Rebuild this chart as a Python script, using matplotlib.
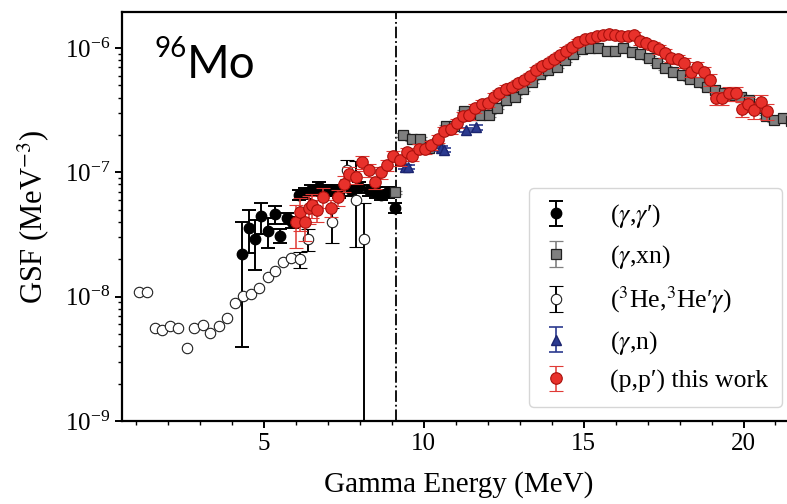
import matplotlib
matplotlib.use("Agg")
import matplotlib.pyplot as plt
import numpy as np

plt.rcParams['font.family'] = ['Liberation Serif', 'DejaVu Serif']
plt.rcParams['mathtext.fontset'] = 'stix'

nan = float('nan')

# ---------------- data ----------------
# (gamma, gamma')
gg_E = [4.33, 4.53, 4.72, 4.91, 5.13, 5.34, 5.52, 5.73, 5.89, 6.10, 6.30, 6.47, 6.73,
        6.94, 7.15, 7.35, 7.73, 7.97, 8.29, 8.50, 8.68, 8.89, 9.10]
gg_y = [2.2e-8, 3.6e-8, 2.9e-8, 4.45e-8, 3.4e-8, 4.6e-8, 3.1e-8, 4.3e-8, 4.0e-8, 6.6e-8,
        6.8e-8, 7.2e-8, 7.6e-8, 7.2e-8, 7.2e-8, 6.9e-8, 7.2e-8, 7.6e-8, 7.2e-8, 6.9e-8,
        6.6e-8, 6.9e-8, 5.2e-8]
gg_err = [0.82, 0.38, 0.43, 0.28, 0.27, 0.16, 0.13, 0.10, 0.10, 0.10, 0.10, 0.10, 0.10,
          0.10, 0.10, 0.10, 0.10, 0.10, 0.10, 0.10, 0.10, 0.10, 0.10]

# (gamma, xn)
gxn_E = [9.10, 9.37, 9.63, 9.90, 10.16, 10.42, 10.69, 10.95, 11.25, 11.50, 11.76, 12.03,
         12.30, 12.58, 12.85, 13.10, 13.38, 13.64, 13.90, 14.16, 14.42, 14.68, 14.94, 15.20,
         15.46, 15.72, 15.98, 16.24, 16.50, 16.77, 17.03, 17.29, 17.55, 17.81, 18.07, 18.34,
         18.60, 18.86, 19.12, 19.38, 19.64, 19.91, 20.17, 20.43, 20.70, 20.96, 21.22, 21.49, 21.75]
gxn_logy = [-7.16, -6.70, -6.735, -6.73, -6.80, -6.76, -6.63, -6.63, -6.51, -6.54, -6.54, -6.54,
            -6.48, -6.42, -6.39, -6.33, -6.27, -6.21, -6.18, -6.15, -6.10, -6.05, -6.01, -6.00,
            -6.00, -6.02, -6.02, -6.00, -6.03, -6.05, -6.08, -6.12, -6.16, -6.19, -6.22, -6.25,
            -6.27, -6.31, -6.34, -6.36, -6.38, -6.39, -6.42, -6.48, -6.55, -6.58, -6.565, -6.59, -6.72]

# (3He, 3He' gamma)
he_E = [1.09, 1.35, 1.59, 1.83, 2.07, 2.33, 2.59, 2.83, 3.09, 3.33, 3.60, 3.85, 4.09, 4.36,
        4.60, 4.86, 5.12, 5.36, 5.61, 5.86, 6.12, 6.38, 7.13, 7.60, 7.87, 8.13]
he_y = [1.1e-8, 1.1e-8, 5.6e-9, 5.4e-9, 5.8e-9, 5.6e-9, 3.9e-9, 5.6e-9, 5.9e-9, 5.1e-9,
        5.8e-9, 6.7e-9, 8.9e-9, 1.01e-8, 1.05e-8, 1.17e-8, 1.43e-8, 1.62e-8, 1.9e-8, 2.04e-8,
        2.0e-8, 2.9e-8, 4.0e-8, 1.05e-7, 6.0e-8, 2.9e-8]
he_err_lo = [nan, nan, nan, nan, nan, nan, nan, nan, nan, nan, nan, nan, nan,
             nan, nan, nan, nan, nan, nan, nan, 0.15, 0.20, 0.32, 0.15, 0.58, 0.999]
he_err_hi = [nan, nan, nan, nan, nan, nan, nan, nan, nan, nan, nan, nan, nan,
             nan, nan, nan, nan, nan, nan, nan, 0.15, 0.20, 0.30, 0.20, 1.05, 0.95]

# (gamma, n)
gn_E = [9.42, 9.52, 10.55, 10.65, 11.32, 11.64]
gn_y = [1.11e-7, 1.11e-7, 1.56e-7, 1.52e-7, 2.2e-7, 2.3e-7]

# (p, p') this work
pp_E = [6.01, 6.15, 6.29, 6.41, 6.50, 6.68, 6.86, 7.10, 7.31, 7.50, 7.68, 7.89, 8.08, 8.30,
        8.49, 8.68, 8.87, 9.05, 9.26, 9.47, 9.65, 9.84, 10.03, 10.24, 10.45, 10.63, 10.84,
        11.03, 11.23, 11.42, 11.61, 11.81, 12.00, 12.19, 12.37, 12.56, 12.75, 12.94, 13.13,
        13.32, 13.51, 13.70, 13.89, 14.08, 14.27, 14.46, 14.65, 14.84, 15.03, 15.22, 15.41,
        15.60, 15.80, 15.99, 16.17, 16.38, 16.59, 16.77, 16.96, 17.17, 17.36, 17.56, 17.73,
        17.94, 18.15, 18.35, 18.54, 18.76, 18.95, 19.13, 19.34, 19.55, 19.76, 19.94, 20.13,
        20.34, 20.55, 20.74]
pp_logy = [-7.40, -7.32, -7.40, -7.29, -7.26, -7.30, -7.20, -7.285, -7.20, -7.09, -7.01,
           -7.035, -6.915, -6.98, -7.08, -7.00, -6.94, -6.87, -6.90, -6.84, -6.865, -6.81,
           -6.81, -6.78, -6.73, -6.665, -6.654, -6.606, -6.547, -6.539, -6.485, -6.45, -6.44,
           -6.39, -6.365, -6.33, -6.31, -6.285, -6.26, -6.225, -6.18, -6.145, -6.12, -6.09,
           -6.055, -6.02, -5.99, -5.955, -5.928, -5.92, -5.905, -5.893, -5.887, -5.893, -5.903,
           -5.903, -5.895, -5.94, -5.962, -5.984, -6.01, -6.043, -6.078, -6.09, -6.118, -6.19,
           -6.155, -6.19, -6.257, -6.40, -6.40, -6.364, -6.364, -6.49, -6.45, -6.50, -6.437, -6.507]
pp_err = [0.38, 0.30, 0.30, 0.25, 0.22, 0.20, 0.18, 0.16, 0.15, 0.14, 0.13, 0.12, 0.12, 0.12,
          0.11, 0.11, 0.10, 0.10, 0.10, 0.09, 0.09, 0.09, 0.09, 0.08, 0.08, 0.08, 0.08, 0.08,
          0.08, 0.08, 0.08, 0.07, 0.07, 0.07, 0.07, 0.07, 0.06, 0.06, 0.06, 0.06, 0.06, 0.06,
          0.06, 0.06, 0.06, 0.06, 0.06, 0.06, 0.06, 0.06, 0.06, 0.06, 0.06, 0.06, 0.06, 0.06,
          0.06, 0.07, 0.07, 0.07, 0.08, 0.08, 0.08, 0.09, 0.09, 0.10, 0.10, 0.10, 0.11, 0.12,
          0.12, 0.13, 0.13, 0.14, 0.14, 0.15, 0.15, 0.15]

labels = ["($\\gamma$,$\\gamma$\u2032)", "($\\gamma$,xn)",
          "($^{3}$He,$^{3}$He\u2032$\\gamma$)", "($\\gamma$,n)", "(p,p\u2032) this work"]

S_n = 9.15
xlim = (0.57, 21.61)
ylim = (1e-9, 1.95e-6)

# ---------------- plot ----------------
fig = plt.figure(figsize=(7.87, 5.04), dpi=100)
ax = fig.add_axes([122/787, 83/504, 673/787, 409/504])

gg_y = np.array(gg_y)
ax.errorbar(gg_E, gg_y, yerr=gg_y * np.array(gg_err), fmt='o', color='black', ms=7.5,
            mfc='black', mec='black', ecolor='black', elinewidth=1.4, capsize=5, capthick=1.4,
            label=labels[0], zorder=3)

gxn_y = 10.0 ** np.array(gxn_logy)
ax.errorbar(gxn_E, gxn_y, yerr=gxn_y * 0.03, fmt='s', color='#808080', ms=7, mfc='#7f7f7f',
            mec='#202020', mew=0.9, ecolor='#808080', elinewidth=1.2, capsize=5, capthick=1.2,
            label=labels[1], zorder=3)

he_y = np.array(he_y)
ax.errorbar(he_E, he_y, yerr=[he_y * np.array(he_err_lo), he_y * np.array(he_err_hi)], fmt='o',
            ms=7.5, mfc='white', mec='#202020', mew=0.8, ecolor='black', elinewidth=1.4,
            capsize=5, capthick=1.4, label=labels[2], zorder=4)

gn_y = np.array(gn_y)
ax.errorbar(gn_E, gn_y, yerr=gn_y * 0.04, fmt='^', ms=7, mfc='#2b3a8f', mec='#1c2570',
            ecolor='#2b3a8f', elinewidth=1.2, capsize=5, capthick=1.2, label=labels[3], zorder=4)

pp_y = 10.0 ** np.array(pp_logy)
ax.errorbar(pp_E, pp_y, yerr=pp_y * np.array(pp_err), fmt='o', ms=8.3, mfc='#e8312b',
            mec='#a8100c', mew=0.8, ecolor='#e03a36', elinewidth=1.1, capsize=5, capthick=1.1,
            label=labels[4], zorder=5)

ax.axvline(S_n, color='black', ls='-.', lw=1.3, zorder=2)

ax.set_yscale('log')
ax.set_xlim(*xlim)
ax.set_ylim(*ylim)
ax.set_xticks([5, 10, 15, 20])
ax.set_xticks(np.arange(1, 22, 1), minor=True)
ax.tick_params(axis='both', which='major', labelsize=18, length=5, width=1.4, direction='out')
ax.tick_params(axis='both', which='minor', length=3, width=1.0, direction='out')
ax.set_xlabel('Gamma Energy (MeV)', fontsize=21, labelpad=12)
ax.set_ylabel(r'GSF (MeV$^{-3}$)', fontsize=22, labelpad=10)
for s in ['left', 'top', 'bottom']:
    ax.spines[s].set_linewidth(1.6)
ax.spines['right'].set_visible(False)

leg = ax.legend(loc='lower right', bbox_to_anchor=((782 - 122) / 673, (421 - 407) / 409),
                fontsize=18.5, frameon=True, handlelength=1.0, labelspacing=0.5, borderpad=0.55,
                handletextpad=1.6, borderaxespad=0.0)
leg.get_frame().set_edgecolor('#cccccc')

fig.text(155/787, 1 - 62/504, '96', fontsize=20, family='Lato', va='bottom', ha='left')
fig.text(187/787, 1 - 86/504, 'Mo', fontsize=33, family='Lato', va='bottom', ha='left')

fig.savefig('out.png', dpi=100)
